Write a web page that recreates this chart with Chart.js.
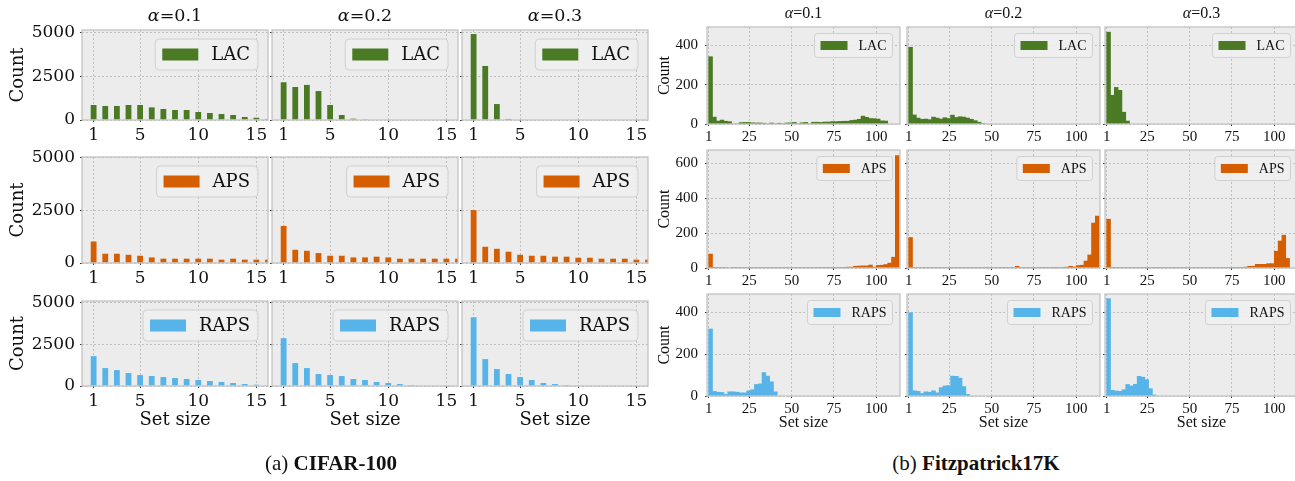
<!DOCTYPE html>
<html>
<head>
<meta charset="utf-8">
<script src="https://cdn.jsdelivr.net/npm/chart.js@4.4.1/dist/chart.umd.min.js"></script>
<style>
  html, body { margin: 0; padding: 0; background: #fff; }
  #fig { position: relative; width: 1295px; height: 481px; overflow: hidden; }
  #fig canvas { position: absolute; }
  .txt { position: absolute; transform: translate(-50%, -50%); white-space: nowrap; color: #111; }
  .cifar { font-family: "DejaVu Serif"; font-size: 17.5px; }
  .fitz { font-family: "Liberation Serif"; font-size: 16px; }
  .cap { font-family: "Liberation Serif"; font-size: 21px; }
</style>
</head>
<body>
<div id="fig"></div>
<script>
// ---- CIFAR-100: number of test points per prediction-set size ----
const cifarSetSizes = [1, 2, 3, 4, 5, 6, 7, 8, 9, 10, 11, 12, 13, 14, 15, 16];
const cifarLac01 = [855, 800, 800, 855, 855, 720, 630, 570, 570, 455, 400, 340, 285, 170, 130, 60];
const cifarLac02 = [2150, 1880, 2000, 1650, 855, 285, 75, 10];
const cifarLac03 = [4900, 3080, 910, 60];
const cifarAps01 = [1020, 440, 440, 390, 345, 265, 205, 205, 205, 205, 205, 160, 205, 160, 160, 160];
const cifarAps02 = [1760, 630, 580, 470, 345, 345, 265, 265, 300, 265, 205, 205, 205, 205, 205, 205];
const cifarAps03 = [2510, 770, 675, 535, 390, 345, 345, 300, 300, 250, 250, 205, 205, 205, 160, 160];
const cifarRaps01 = [1800, 1080, 960, 780, 660, 600, 540, 480, 420, 360, 300, 240, 180, 120, 80, 40];
const cifarRaps02 = [2880, 1380, 1080, 720, 660, 600, 420, 360, 240, 180, 120, 60, 20, 20];
const cifarRaps03 = [4140, 1620, 1020, 720, 540, 360, 180, 120, 60, 20, 20];

// ---- Fitzpatrick17K: histogram, bins of width 2.25 starting at 1 ----
const fitzBinCentres = [2.125, 4.375, 6.625, 8.875, 11.125, 13.375, 15.625, 17.875, 20.125, 22.375,
  24.625, 26.875, 29.125, 31.375, 33.625, 35.875, 38.125, 40.375, 42.625, 44.875,
  47.125, 49.375, 51.625, 53.875, 56.125, 58.375, 60.625, 62.875, 65.125, 67.375,
  69.625, 71.875, 74.125, 76.375, 78.625, 80.875, 83.125, 85.375, 87.625, 89.875,
  92.125, 94.375, 96.625, 98.875, 101.125, 103.375, 105.625, 107.875, 110.125, 112.375];
const fitzLac01 = [342, 35, 15, 20, 14, 12, 0, 0, 7, 8,
  8, 6, 5, 5, 4, 0, 5, 0, 4, 0,
  5, 6, 8, 0, 6, 8, 0, 9, 9, 8,
  10, 10, 12, 12, 13, 14, 14, 18, 20, 24,
  40, 34, 28, 27, 25, 16, 15];
const fitzLac02 = [390, 46, 30, 24, 25, 22, 35, 30, 25, 32,
  28, 45, 33, 37, 35, 30, 24, 17, 9, 2];
const fitzLac03 = [467, 146, 186, 171, 60, 15];
const fitzAps01 = [80, 4, 3, 3, 2, 0, 3, 2, 3, 2,
  2, 3, 2, 3, 2, 3, 2, 3, 3, 2,
  3, 2, 3, 3, 2, 3, 3, 2, 3, 3,
  3, 3, 3, 3, 3, 4, 5, 5, 10, 11,
  12, 12, 17, 5, 15, 16, 20, 28, 62, 645];
const fitzAps02 = [175, 3, 2, 3, 2, 3, 2, 2, 3, 2,
  3, 3, 2, 3, 3, 2, 3, 3, 3, 2,
  3, 3, 2, 3, 3, 3, 2, 3, 10, 3,
  2, 3, 3, 2, 3, 3, 3, 3, 4, 3,
  4, 5, 10, 6, 14, 16, 40, 75, 258, 298];
const fitzAps03 = [280, 4, 3, 2, 3, 3, 2, 3, 2, 3,
  3, 2, 3, 3, 2, 3, 2, 3, 3, 2,
  3, 3, 2, 3, 3, 3, 2, 3, 3, 2,
  3, 3, 3, 4, 4, 4, 5, 10, 10, 21,
  21, 21, 25, 25, 96, 155, 188, 55];
const fitzRaps01 = [320, 22, 18, 17, 8, 20, 20, 18, 15, 15,
  25, 30, 55, 58, 112, 95, 68, 20];
const fitzRaps02 = [398, 25, 22, 12, 20, 18, 25, 15, 40, 48,
  50, 95, 94, 85, 45, 8];
const fitzRaps03 = [465, 27, 24, 22, 30, 55, 48, 56, 94, 90,
  78, 35, 5];

const alphas = ['0.1', '0.2', '0.3'];
const methods = ['LAC', 'APS', 'RAPS'];
const methodColors = ['#4a7b24', '#d55e00', '#56b4e9'];
const cifarXTicks = [1, 5, 10, 15];
const cifarYTicks = [0, 2500, 5000];
const fitzXTicks = [1, 25, 50, 75, 100];
const fitzYTicks = [[0, 200, 400], [0, 200, 400, 600], [0, 200, 400]];

const fig = document.getElementById('fig');

// panel background and frame
const bgFrame = {
  id: 'bgFrame',
  beforeDraw(chart) {
    const { ctx, chartArea: a } = chart;
    ctx.save();
    ctx.fillStyle = '#ececec';
    ctx.fillRect(a.left, a.top, a.right - a.left, a.bottom - a.top);
    ctx.restore();
  },
  afterDraw(chart) {
    const { ctx, chartArea: a } = chart;
    ctx.save();
    ctx.strokeStyle = '#c4c4c4';
    ctx.lineWidth = 1.3;
    ctx.strokeRect(a.left, a.top, a.right - a.left, a.bottom - a.top);
    ctx.restore();
  }
};

// legend drawn inside the plot, top right
const insideLegend = {
  id: 'insideLegend',
  afterDraw(chart, args, o) {
    const ds = chart.data.datasets[0];
    const { ctx, chartArea: a } = chart;
    ctx.save();
    ctx.font = o.size + 'px "' + o.family + '"';
    const tw = ctx.measureText(ds.label).width;
    const w = o.padL + o.patchW + o.gap + tw + o.padR;
    const x = a.right - o.marginR - w, y = a.top + o.marginT;
    ctx.beginPath();
    ctx.roundRect(x, y, w, o.h, o.r);
    ctx.fillStyle = 'rgba(240,240,240,0.85)';
    ctx.fill();
    ctx.strokeStyle = '#d0d0d0';
    ctx.lineWidth = 1;
    ctx.stroke();
    ctx.fillStyle = ds.backgroundColor;
    ctx.fillRect(x + o.padL, y + (o.h - o.patchH) / 2, o.patchW, o.patchH);
    ctx.fillStyle = '#111';
    ctx.textBaseline = 'middle';
    ctx.fillText(ds.label, x + o.padL + o.patchW + o.gap, y + o.h / 2 + 1);
    ctx.restore();
  }
};

function makePanel(p) {
  const w = p.width + p.padL + p.padR, h = p.height + p.padT + p.padB;
  const cv = document.createElement('canvas');
  cv.width = w; cv.height = h;
  cv.style.left = (p.left - p.padL) + 'px';
  cv.style.top = (p.top - p.padT) + 'px';
  cv.style.width = w + 'px';
  cv.style.height = h + 'px';
  fig.appendChild(cv);

  const tickFont = { family: p.family, size: p.tickSize };
  const labelFont = { family: p.family, size: p.labelSize };
  new Chart(cv, {
    type: 'bar',
    data: {
      datasets: [{
        label: p.label,
        data: p.ys.map((y, i) => ({ x: p.xs[i], y })),
        backgroundColor: p.color,
        borderWidth: 0,
        barPercentage: p.barPct,
        categoryPercentage: 1,
        clip: 0
      }]
    },
    options: {
      responsive: false,
      animation: false,
      events: [],
      layout: { padding: { top: p.padT, right: p.padR, left: 0, bottom: 0 } },
      plugins: { legend: { display: false }, tooltip: { enabled: false }, insideLegend: p.legend },
      scales: {
        x: {
          type: 'linear', min: 0, max: p.xMax, z: 1, offset: false,
          afterBuildTicks: s => { s.ticks = p.xTicks.map(v => ({ value: v })); },
          afterFit: s => { s.height = p.padB; s.paddingLeft = 0; s.paddingRight = 0; },
          ticks: { font: tickFont, color: '#111', padding: p.xPad, autoSkip: false, maxRotation: 0, callback: v => String(v) },
          grid: { offset: false, color: '#b4b4b4', lineWidth: 0.8, tickLength: 2, tickColor: '#333', tickWidth: 1 },
          border: { display: false, dash: [2, 2] },
          title: { display: p.xTitle, text: 'Set size', font: labelFont, color: '#111', padding: { top: 0, bottom: p.xTitlePad } }
        },
        y: {
          min: 0, max: p.yMax, z: 1,
          afterBuildTicks: s => { s.ticks = p.yTicks.map(v => ({ value: v })); },
          afterFit: s => { s.width = p.padL; s.paddingTop = 0; s.paddingBottom = 0; },
          ticks: { display: p.showY, font: tickFont, color: '#111', padding: p.yPad, autoSkip: false, callback: v => String(v) },
          grid: { color: '#b4b4b4', lineWidth: 0.8, tickLength: 2, tickColor: '#333', tickWidth: 1 },
          border: { display: false, dash: [2, 2] },
          title: { display: p.showY, text: 'Count', font: labelFont, color: '#111', padding: { top: p.yTitlePad, bottom: 0 } }
        }
      }
    },
    plugins: [bgFrame, insideLegend]
  });
}

// ---- CIFAR-100 grid ----
const cifarCols = [82, 272, 462];
const cifarRows = [[30, 120], [157, 263], [301, 386]];
const cifarYMax = [5130, 5030, 5120];
const cifarData = [[cifarLac01, cifarLac02, cifarLac03], [cifarAps01, cifarAps02, cifarAps03], [cifarRaps01, cifarRaps02, cifarRaps03]];
const cifarLegend = { family: 'DejaVu Serif', size: 18, h: 31, r: 4, padL: 7, patchW: 36, patchH: 12, gap: 13, padR: 8, marginR: 10, marginT: 9 };

cifarRows.forEach(([top, bottom], r) => cifarCols.forEach((left, c) => makePanel({
  left, top, width: 186, height: bottom - top,
  padL: c === 0 ? 82 : 3, padR: 2, padT: 12, padB: r === 2 ? 46 : 28,
  xs: cifarSetSizes, ys: cifarData[r][c], label: methods[r], color: methodColors[r], barPct: 0.5,
  xMax: 16, xTicks: cifarXTicks, yMax: cifarYMax[r], yTicks: cifarYTicks,
  family: 'DejaVu Serif', tickSize: 17, labelSize: 18, xPad: 3.5, yPad: 5, yTitlePad: 7.5, xTitlePad: 1.2,
  showY: c === 0, xTitle: r === 2, legend: cifarLegend
})));

// ---- Fitzpatrick17K grid ----
const fitzCols = [707, 907, 1105];
const fitzRows = [[27, 124], [150, 268], [294, 396]];
const fitzYMax = [493, 677, 487];
const fitzData = [[fitzLac01, fitzLac02, fitzLac03], [fitzAps01, fitzAps02, fitzAps03], [fitzRaps01, fitzRaps02, fitzRaps03]];
const fitzLegend = { family: 'Liberation Serif', size: 14, h: 24, r: 3, padL: 6, patchW: 27, patchH: 9, gap: 11, padR: 6, marginR: 7.5, marginT: 6.5 };

fitzRows.forEach(([top, bottom], r) => fitzCols.forEach((left, c) => makePanel({
  left, top, width: 193, height: bottom - top,
  padL: c === 0 ? 57 : 3, padR: 2, padT: 12, padB: r === 2 ? 38 : 22,
  xs: fitzBinCentres, ys: fitzData[r][c], label: methods[r], color: methodColors[r], barPct: 1,
  xMax: 114, xTicks: fitzXTicks, yMax: fitzYMax[r], yTicks: fitzYTicks[r],
  family: 'Liberation Serif', tickSize: 15, labelSize: 16, xPad: 1.7, yPad: 7, yTitlePad: 5.4, xTitlePad: 2.1,
  showY: c === 0, xTitle: r === 2, legend: fitzLegend
})));

// ---- titles and captions ----
function addText(html, cls, x, y) {
  const d = document.createElement('div');
  d.className = 'txt ' + cls;
  d.innerHTML = html;
  d.style.left = x + 'px';
  d.style.top = y + 'px';
  fig.appendChild(d);
}
alphas.forEach((a, c) => {
  addText('<i>α</i>=' + a, 'cifar', cifarCols[c] + 93, 15);
  addText('<i>α</i>=' + a, 'fitz', fitzCols[c] + 96.5, 13);
});
addText('(a) <b>CIFAR-100</b>', 'cap', 331, 463);
addText('(b) <b>Fitzpatrick17K</b>', 'cap', 976, 463);
</script>
</body>
</html>
